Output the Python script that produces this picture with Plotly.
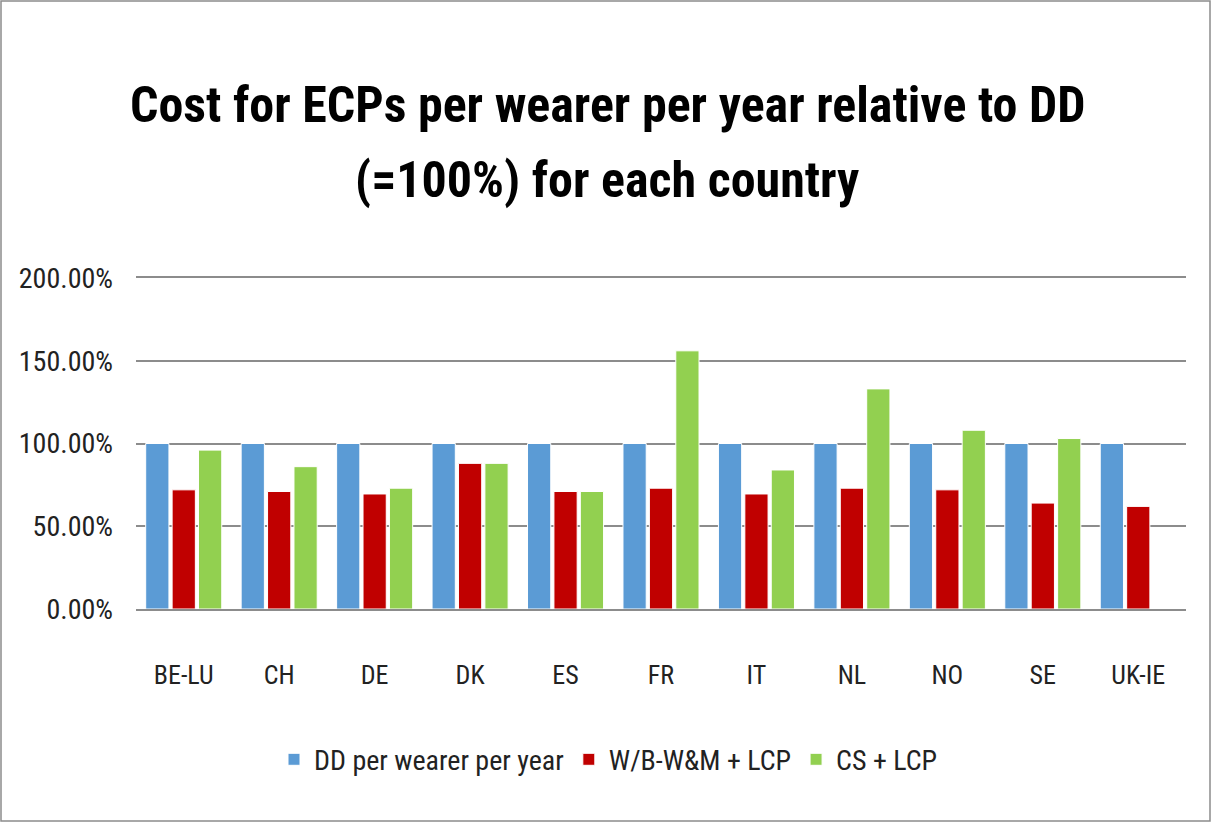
import plotly.graph_objects as go

# Cost relative to DD (=100%) per country
countries = ["BE-LU", "CH", "DE", "DK", "ES", "FR", "IT", "NL", "NO", "SE", "UK-IE"]
dd_per_wearer = [1.00, 1.00, 1.00, 1.00, 1.00, 1.00, 1.00, 1.00, 1.00, 1.00, 1.00]
wb_wm_lcp = [0.72, 0.71, 0.695, 0.88, 0.71, 0.73, 0.695, 0.73, 0.72, 0.64, 0.62]
cs_lcp = [0.96, 0.86, 0.73, 0.88, 0.71, 1.56, 0.84, 1.33, 1.08, 1.03, None]

series_names = ["DD per wearer per year", "W/B-W&M + LCP", "CS + LCP"]
series_colors = ["#5B9BD5", "#C00000", "#92D050"]
title_lines = ["Cost for ECPs per wearer per year relative to DD",
               "(=100%) for each country"]

FONT = "Liberation Sans Narrow, Roboto Condensed, Arial Narrow, Liberation Sans, sans-serif"
W, H = 1212, 823
L, R, T, B = 136, 26, 278, 214
GRID = "#8c8c8c"

fig = go.Figure()
for name, vals, col in zip(series_names, [dd_per_wearer, wb_wm_lcp, cs_lcp], series_colors):
    fig.add_trace(go.Bar(x=countries, y=vals, name=name,
                         marker=dict(color=col, line=dict(color="white", width=1))))

plot_w = W - L - R
plot_h = H - T - B

# title as two annotations so the line spacing can match
for line, ypix in zip(title_lines, [105, 180]):
    fig.add_annotation(text=f"<b>{line}</b>", xref="paper", yref="paper",
                       x=(607 - L) / plot_w, y=(H - B - ypix) / plot_h,
                       xanchor="center", yanchor="middle", showarrow=False,
                       font=dict(family=FONT, size=50, color="black"))

# thin grey frame around the whole chart
fig.add_shape(type="rect", xref="paper", yref="paper", layer="below",
              x0=(1 - L) / plot_w, x1=(W - 2 - L) / plot_w,
              y0=(H - B - (H - 2)) / plot_h, y1=(H - B - 1) / plot_h,
              line=dict(color=GRID, width=1.5))

fig.update_layout(
    width=W, height=H,
    margin=dict(l=L, r=R, t=T, b=B, autoexpand=False),
    paper_bgcolor="white", plot_bgcolor="white",
    barmode="group", bargap=0.17, bargroupgap=0.12,
    font=dict(family=FONT, size=26, color="#222222"),
    showlegend=True,
    legend=dict(orientation="h", x=0.45, xanchor="center", y=-0.455, yanchor="middle",
                font=dict(family=FONT, size=28, color="#222222"),
                itemwidth=30, traceorder="normal"),
)
# the mirrored x axis line gives the 0% and 200% rules
fig.update_xaxes(showgrid=False, showline=True, mirror=True, linecolor=GRID, linewidth=1.5,
                 ticks="", ticklabelstandoff=42,
                 tickfont=dict(family=FONT, size=26, color="#222222"))
fig.update_yaxes(range=[0, 2.0], tickvals=[0, 0.5, 1.0, 1.5, 2.0], tickformat=".2%",
                 showgrid=True, gridcolor=GRID, gridwidth=1.5, zeroline=False,
                 showline=False, ticks="", ticklabelstandoff=22,
                 tickfont=dict(family=FONT, size=28, color="#222222"))

# drop the default body margin so the figure sits at the page origin
fig.write_html("out.html", config={"displayModeBar": False},
               post_script="document.body.style.margin='0';")
